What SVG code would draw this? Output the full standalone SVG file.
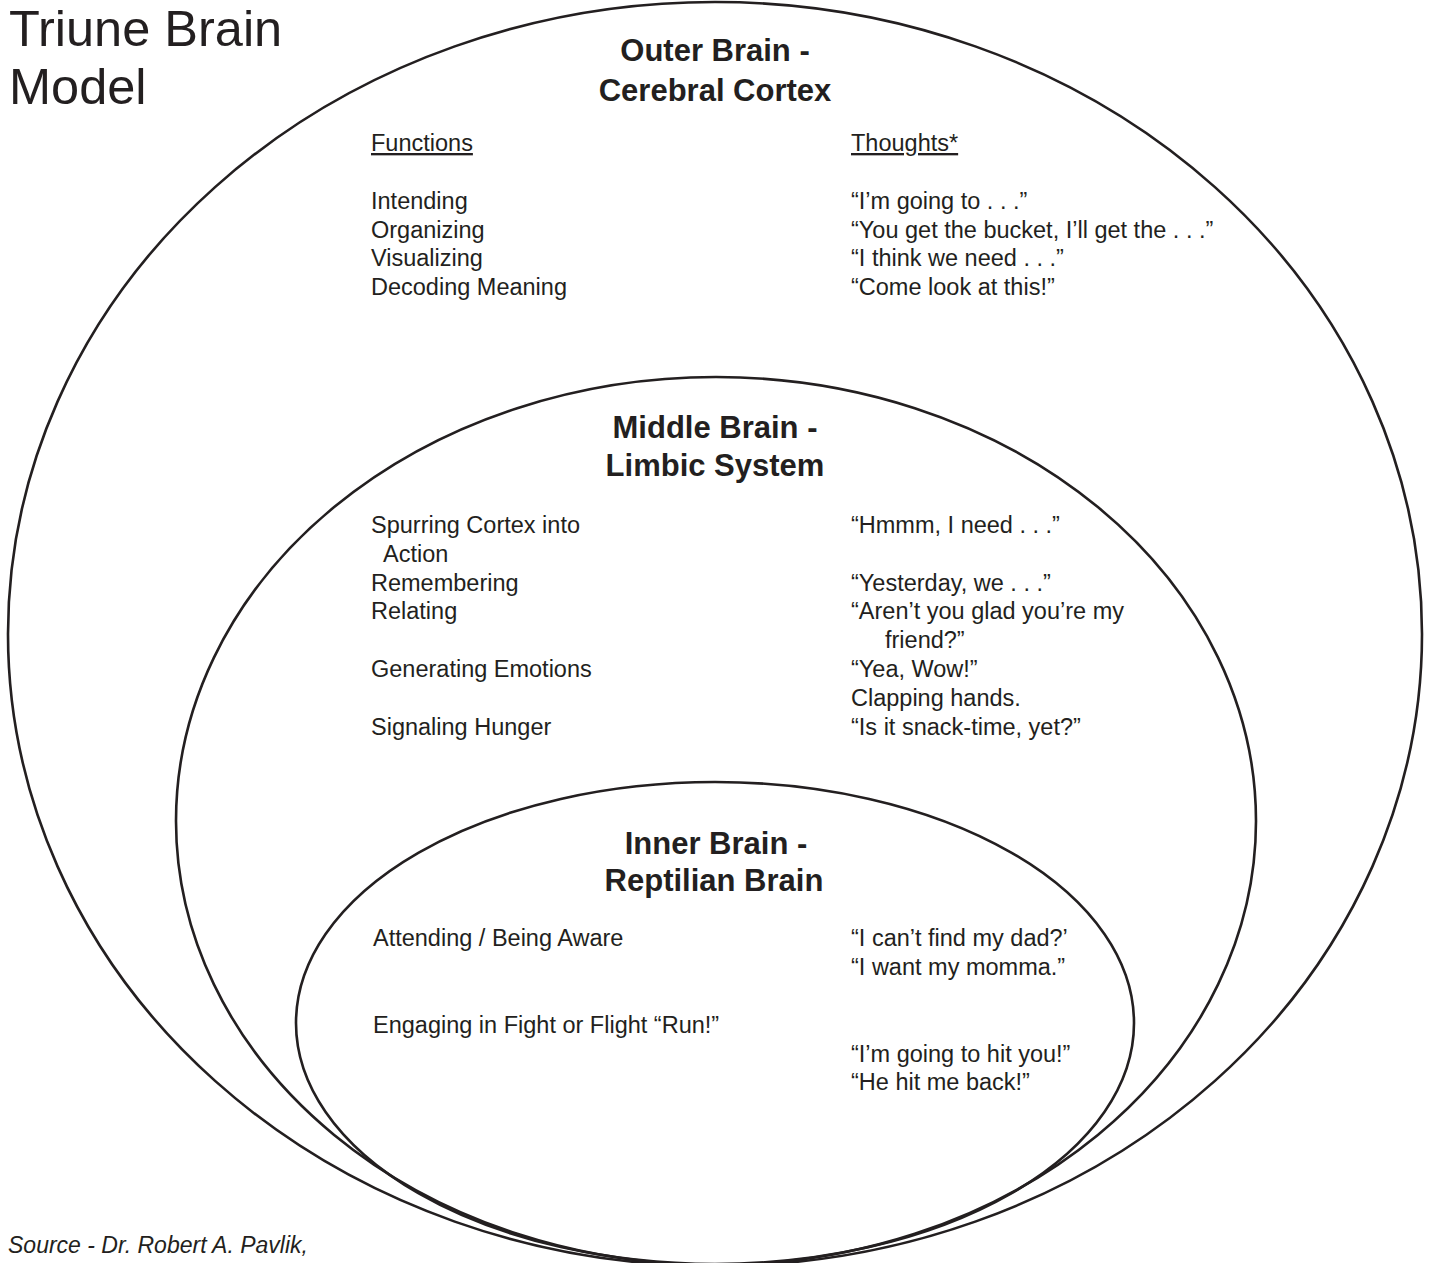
<svg xmlns="http://www.w3.org/2000/svg" width="1429" height="1263" viewBox="0 0 1429 1263">
<style>
.ring{fill:none;stroke:#231f20;stroke-width:2.6}
text{font-family:"Liberation Sans",Arial,sans-serif;fill:#231f20}
.t{font-size:23.5px}
.h{font-size:31px;font-weight:bold;text-anchor:middle}
.u{text-decoration:underline}
</style>
<rect width="1429" height="1263" fill="#ffffff"/>
<g id="title">
<text x="9" y="46" font-size="50.5">Triune Brain</text>
<text x="9" y="104" font-size="50.5">Model</text>
</g>
<g id="outer-brain">
<ellipse class="ring" cx="715" cy="634" rx="707" ry="632"/>
<text class="h" x="715" y="61">Outer Brain -</text>
<text class="h" x="715" y="101">Cerebral Cortex</text>
<text class="t u" x="371" y="151">Functions</text>
<text class="t u" x="851" y="151">Thoughts*</text>
<text class="t" x="371" y="209">Intending</text>
<text class="t" x="371" y="238">Organizing</text>
<text class="t" x="371" y="266">Visualizing</text>
<text class="t" x="371" y="295">Decoding Meaning</text>
<text class="t" x="851" y="209">“I’m going to . . .”</text>
<text class="t" x="851" y="238">“You get the bucket, I’ll get the . . .”</text>
<text class="t" x="851" y="266">“I think we need . . .”</text>
<text class="t" x="851" y="295">“Come look at this!”</text>
</g>
<g id="middle-brain">
<ellipse class="ring" cx="716" cy="821" rx="540" ry="444"/>
<text class="h" x="715" y="438">Middle Brain -</text>
<text class="h" x="715" y="476">Limbic System</text>
<text class="t" x="371" y="533">Spurring Cortex into</text>
<text class="t" x="383" y="562">Action</text>
<text class="t" x="371" y="591">Remembering</text>
<text class="t" x="371" y="619">Relating</text>
<text class="t" x="371" y="677">Generating Emotions</text>
<text class="t" x="371" y="735">Signaling Hunger</text>
<text class="t" x="851" y="533">“Hmmm, I need . . .”</text>
<text class="t" x="851" y="591">“Yesterday, we . . .”</text>
<text class="t" x="851" y="619">“Aren’t you glad you’re my</text>
<text class="t" x="885" y="648">friend?”</text>
<text class="t" x="851" y="677">“Yea, Wow!”</text>
<text class="t" x="851" y="706">Clapping hands.</text>
<text class="t" x="851" y="735">“Is it snack-time, yet?”</text>
</g>
<g id="inner-brain">
<ellipse class="ring" cx="715" cy="1023" rx="419" ry="241"/>
<text class="h" x="716" y="854">Inner Brain -</text>
<text class="h" x="714" y="891">Reptilian Brain</text>
<text class="t" x="373" y="946">Attending / Being Aware</text>
<text class="t" x="373" y="1033">Engaging in Fight or Flight “Run!”</text>
<text class="t" x="851" y="946">“I can’t find my dad?’</text>
<text class="t" x="851" y="975">“I want my momma.”</text>
<text class="t" x="851" y="1062">“I’m going to hit you!”</text>
<text class="t" x="851" y="1090">“He hit me back!”</text>
</g>
<g id="source">
<text x="8" y="1253" font-size="23" font-style="italic">Source - Dr. Robert A. Pavlik,</text>
</g>
</svg>
